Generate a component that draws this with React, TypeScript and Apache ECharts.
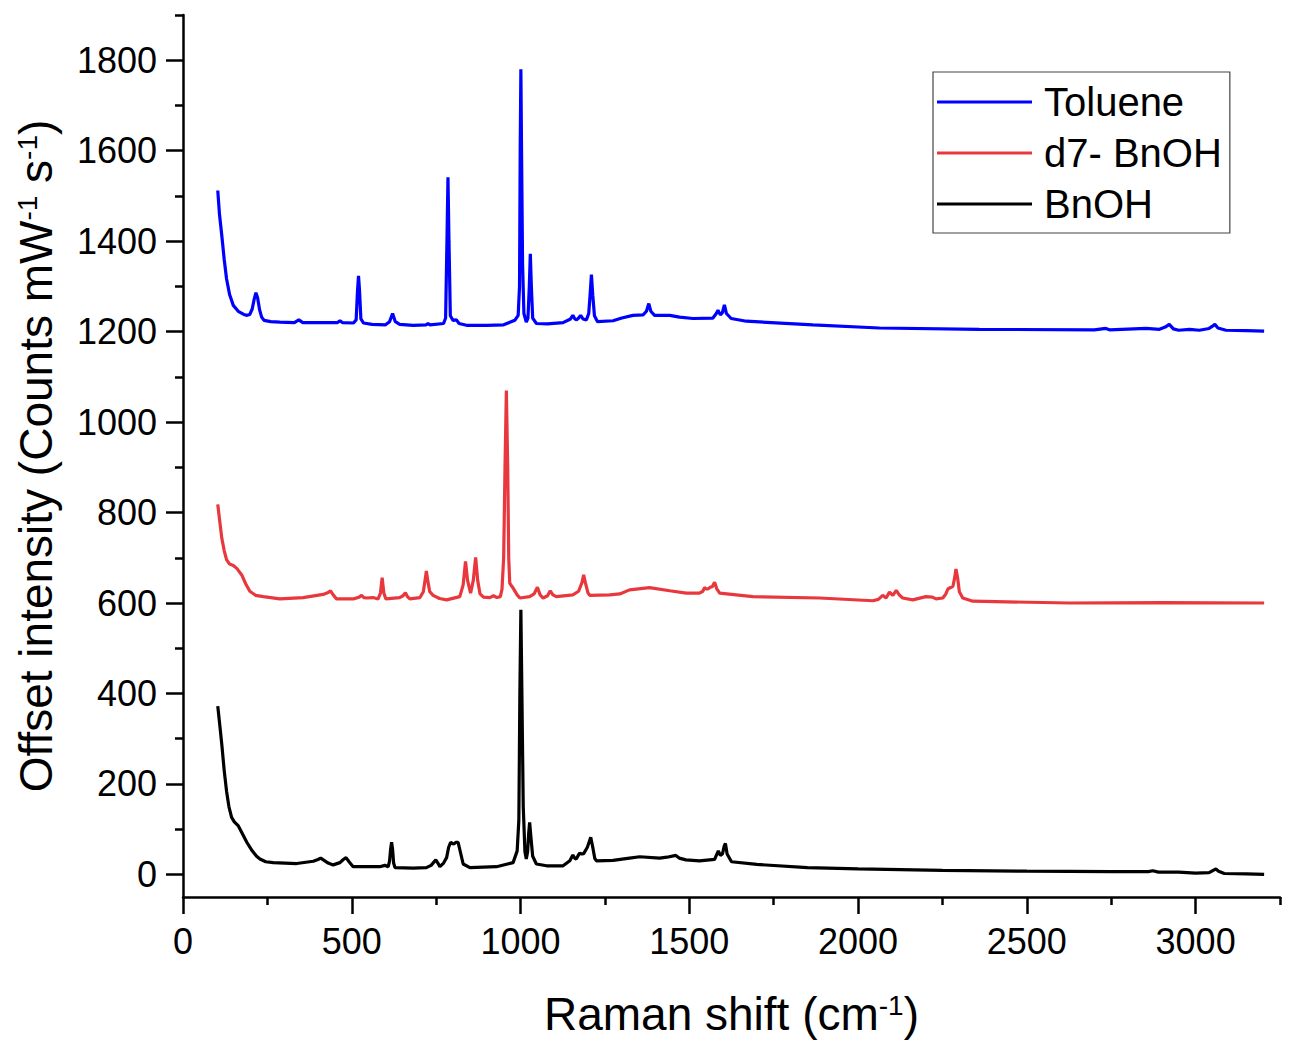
import React, { useEffect, useRef } from "react";
import * as echarts from "echarts";

// ---------- Data ----------
const tolueneX = [103, 108, 115, 122, 129, 138, 149, 165, 180, 190, 198, 205, 211, 216, 221, 227, 233, 240, 260, 287, 330, 343, 355, 405, 458, 465, 472, 505, 513, 517, 520, 523, 527, 535, 560, 600, 612, 621, 629, 642, 682, 720, 726, 732, 772, 778, 782, 785, 788, 792, 800, 810, 818, 840, 900, 950, 983, 993, 997, 999, 1001, 1003, 1006, 1010, 1017, 1022, 1026, 1029, 1032, 1036, 1047, 1080, 1126, 1148, 1155, 1161, 1166, 1172, 1178, 1185, 1195, 1202, 1206, 1210, 1214, 1219, 1228, 1274, 1300, 1333, 1363, 1373, 1380, 1386, 1397, 1442, 1471, 1511, 1570, 1580, 1585, 1592, 1598, 1604, 1610, 1624, 1669, 1866, 2063, 2359, 2700, 2734, 2745, 2853, 2893, 2910, 2922, 2934, 2950, 2982, 3011, 3040, 3050, 3057, 3066, 3090, 3150, 3203];
const tolueneY = [1512, 1460, 1412, 1360, 1317, 1282, 1258, 1244, 1238, 1236, 1238, 1250, 1272, 1286, 1275, 1248, 1232, 1225, 1222, 1221, 1220, 1226, 1220, 1220, 1220, 1224, 1220, 1219, 1226, 1290, 1323, 1290, 1228, 1219, 1216, 1215, 1222, 1240, 1222, 1216, 1214, 1215, 1218, 1215, 1218, 1230, 1400, 1541, 1400, 1235, 1225, 1226, 1218, 1214, 1214, 1215, 1225, 1236, 1300, 1600, 1780, 1600, 1350, 1240, 1221, 1230, 1300, 1372, 1300, 1230, 1218, 1217, 1220, 1228, 1236, 1228, 1226, 1230, 1236, 1228, 1226, 1240, 1280, 1326, 1280, 1235, 1222, 1224, 1230, 1236, 1237, 1245, 1262, 1245, 1236, 1236, 1232, 1229, 1230, 1240, 1247, 1237, 1242, 1259, 1240, 1229, 1223, 1215, 1208, 1205, 1204, 1207, 1204, 1207, 1205, 1210, 1216, 1206, 1203, 1205, 1203, 1207, 1212, 1216, 1208, 1203, 1202, 1201];

const d7X = [103, 109, 115, 122, 129, 138, 149, 160, 174, 186, 198, 215, 238, 287, 356, 415, 430, 437, 445, 455, 504, 522, 529, 536, 544, 563, 578, 585, 590, 595, 601, 642, 652, 659, 665, 672, 702, 712, 717, 721, 725, 731, 741, 760, 781, 820, 830, 837, 843, 852, 860, 867, 873, 880, 890, 909, 920, 930, 940, 945, 950, 954, 958, 962, 965, 968, 973, 978, 990, 998, 1027, 1040, 1050, 1058, 1067, 1080, 1088, 1096, 1106, 1155, 1172, 1182, 1187, 1192, 1200, 1205, 1264, 1294, 1323, 1382, 1442, 1491, 1530, 1540, 1545, 1550, 1555, 1562, 1568, 1575, 1581, 1590, 1688, 1886, 2044, 2060, 2073, 2083, 2093, 2103, 2113, 2122, 2132, 2162, 2201, 2220, 2231, 2251, 2260, 2266, 2281, 2286, 2290, 2295, 2300, 2310, 2340, 2626, 2900, 3203];
const d7Y = [818, 780, 743, 716, 696, 686, 683, 676, 662, 642, 626, 617, 614, 609, 612, 619, 623, 627, 618, 609, 609, 613, 617, 612, 611, 612, 609, 622, 656, 622, 609, 612, 616, 623, 614, 609, 612, 625, 650, 671, 650, 625, 617, 610, 607, 614, 640, 692, 650, 622, 650, 701, 650, 620, 613, 612, 616, 612, 614, 630, 700, 900, 1070, 900, 700, 644, 638, 633, 618, 611, 614, 620, 635, 618, 611, 616, 627, 618, 614, 618, 626, 645, 662, 645, 622, 617, 618, 620, 629, 634, 627, 622, 622, 626, 634, 631, 631, 635, 636, 646, 632, 622, 614, 611, 605, 608, 617, 611, 624, 617, 628, 618, 611, 607, 614, 613, 609, 611, 620, 631, 637, 655, 675, 655, 625, 611, 604, 600, 601, 600];

const bnohX = [103, 109, 115, 122, 129, 136, 144, 152, 164, 176, 189, 205, 218, 228, 245, 267, 337, 386, 400, 408, 418, 430, 445, 465, 475, 483, 492, 504, 583, 598, 608, 612, 615, 618, 621, 624, 628, 682, 721, 735, 749, 756, 761, 772, 781, 787, 793, 802, 809, 815, 820, 830, 850, 929, 978, 990, 995, 998, 1001, 1004, 1008, 1013, 1017, 1021, 1024, 1027, 1031, 1036, 1047, 1077, 1126, 1146, 1155, 1160, 1165, 1171, 1175, 1181, 1187, 1198, 1208, 1214, 1220, 1225, 1274, 1323, 1353, 1412, 1434, 1460, 1470, 1490, 1530, 1575, 1580, 1586, 1592, 1598, 1604, 1607, 1612, 1625, 1700, 1850, 2000, 2250, 2500, 2750, 2860, 2873, 2890, 2950, 3000, 3040, 3052, 3060, 3068, 3085, 3150, 3203];
const bnohY = [372, 330, 287, 230, 184, 150, 126, 116, 107, 90, 71, 52, 40, 34, 28, 26, 24, 29, 33, 36, 31, 25, 21, 26, 33, 37, 28, 17, 17, 20, 17, 30, 55, 71, 55, 25, 15, 14, 15, 20, 32, 24, 17, 25, 37, 60, 71, 67, 71, 71, 55, 23, 15, 17, 26, 52, 120, 400, 585, 400, 150, 50, 34, 50, 90, 115, 80, 40, 23, 19, 19, 30, 43, 36, 34, 42, 47, 45, 46, 60, 82, 60, 35, 30, 31, 36, 39, 36, 38, 42, 36, 32, 30, 33, 42, 52, 42, 45, 64, 68, 45, 28, 22, 15, 12, 9, 7, 6, 6, 8, 5, 5, 3, 4, 9, 12, 7, 2, 1, 0];

const seriesNames = ["Toluene", "d7- BnOH", "BnOH"];
const seriesColors = ["#0000FF", "#E8383D", "#000000"];

const xMajorTicks = [0, 500, 1000, 1500, 2000, 2500, 3000];
const xMinorTicks = [250, 750, 1250, 1750, 2250, 2750, 3250];
const yMajorTicks = [0, 200, 400, 600, 800, 1000, 1200, 1400, 1600, 1800];
const yMinorTicks = [100, 300, 500, 700, 900, 1100, 1300, 1500, 1700, 1900];

const zip = (xs: number[], ys: number[]) => xs.map((x, i) => [x, ys[i]]);

export default function App() {
  const ref = useRef<HTMLDivElement>(null);
  useEffect(() => {
    if (!ref.current) return;
    const chart = echarts.init(ref.current, null, { renderer: "svg" });
    const font = "'Liberation Sans', Arial, sans-serif";
    const axisColor = "#000";
    const titleRich = {
      n: { fontSize: 46, lineHeight: 46, color: "#000", fontFamily: font },
      s: { fontSize: 28, lineHeight: 28, color: "#000", fontFamily: font, verticalAlign: "top" },
    };
    const plain = (v: number) => String(v);
    const dataSets = [zip(tolueneX, tolueneY), zip(d7X, d7Y), zip(bnohX, bnohY)];
    chart.setOption({
      animation: false,
      backgroundColor: "#ffffff",
      textStyle: { fontFamily: font },
      grid: { left: 183, right: 10, top: 15, bottom: 142, containLabel: false },
      legend: {
        orient: "vertical",
        left: 933,
        top: 72,
        data: seriesNames.map((n) => ({ name: n, icon: "rect" })),
        itemWidth: 95,
        itemHeight: 3,
        itemGap: 11,
        padding: [10, 8, 9, 4],
        borderColor: "#444",
        borderWidth: 1.2,
        backgroundColor: "#fff",
        textStyle: { fontSize: 40, lineHeight: 40, color: "#000", fontFamily: font, padding: [0, 0, 0, 7] },
      },
      xAxis: [
        {
          type: "value",
          min: 0,
          max: 3250,
          position: "bottom",
          name: "{n|Raman shift (cm}{s|-1}{n|)}",
          nameLocation: "middle",
          nameGap: 94,
          nameTextStyle: { rich: titleRich },
          axisLine: { show: true, onZero: false, lineStyle: { color: axisColor, width: 2.5 } },
          axisTick: { show: true, customValues: xMajorTicks, length: 17, lineStyle: { color: axisColor, width: 2.5 } },
          axisLabel: { show: true, customValues: xMajorTicks, formatter: plain, fontSize: 36, color: "#000", margin: 26, fontFamily: font },
          splitLine: { show: false },
        },
        {
          type: "value",
          min: 0,
          max: 3250,
          position: "bottom",
          offset: 0,
          axisLine: { show: false, onZero: false },
          axisTick: { show: true, customValues: xMinorTicks, length: 8, lineStyle: { color: axisColor, width: 2.5 } },
          axisLabel: { show: false },
          splitLine: { show: false },
        },
      ],
      yAxis: [
        {
          type: "value",
          min: -50,
          max: 1900,
          position: "left",
          name: "{n|Offset intensity (Counts mW}{s|-1}{n| s}{s|-1}{n|)}",
          nameLocation: "middle",
          nameRotate: 90,
          nameGap: 124,
          nameTextStyle: { rich: titleRich },
          axisLine: { show: true, onZero: false, lineStyle: { color: axisColor, width: 2.5 } },
          axisTick: { show: true, customValues: yMajorTicks, length: 17, lineStyle: { color: axisColor, width: 2.5 } },
          axisLabel: { show: true, customValues: yMajorTicks, formatter: plain, fontSize: 36, color: "#000", margin: 26, fontFamily: font },
          splitLine: { show: false },
        },
        {
          type: "value",
          min: -50,
          max: 1900,
          position: "left",
          offset: 0,
          axisLine: { show: false, onZero: false },
          axisTick: { show: true, customValues: yMinorTicks, length: 8, lineStyle: { color: axisColor, width: 2.5 } },
          axisLabel: { show: false },
          splitLine: { show: false },
        },
      ],
      series: seriesNames.map((name, i) => ({
        name,
        type: "line",
        xAxisIndex: 0,
        yAxisIndex: 0,
        data: dataSets[i],
        symbol: "none",
        showSymbol: false,
        smooth: false,
        lineStyle: { color: seriesColors[i], width: 3.2 },
        itemStyle: { color: seriesColors[i] },
        emphasis: { disabled: true },
      })),
    });
    return () => chart.dispose();
  }, []);
  return (
    <div
      ref={ref}
      style={{ position: "fixed", left: 0, top: 0, width: 1290, height: 1042, background: "#fff" }}
    />
  );
}
